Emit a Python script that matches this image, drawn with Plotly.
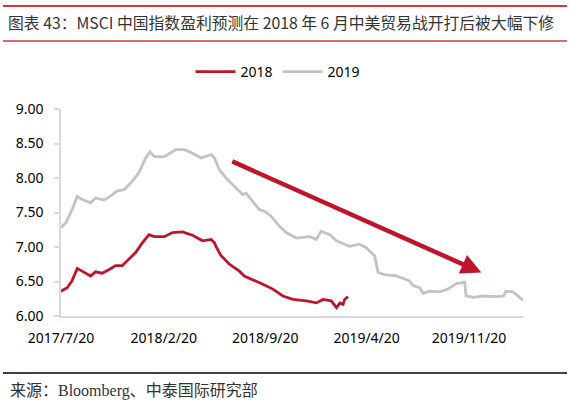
import plotly.graph_objects as go

# ---- data ----
dates_2019 = [
    "2017-07-20", "2017-07-30", "2017-08-12", "2017-08-23", "2017-09-02", "2017-09-20",
    "2017-09-30", "2017-10-18", "2017-11-01", "2017-11-14", "2017-11-29", "2017-12-16",
    "2017-12-30", "2018-01-13", "2018-01-22", "2018-01-31", "2018-02-21", "2018-03-07",
    "2018-03-17", "2018-04-04", "2018-04-21", "2018-05-09", "2018-05-19", "2018-05-30",
    "2018-06-06", "2018-06-16", "2018-06-30", "2018-07-17", "2018-08-04", "2018-08-11",
    "2018-08-25", "2018-09-08", "2018-09-18", "2018-10-02", "2018-10-20", "2018-11-03",
    "2018-11-24", "2018-12-22", "2019-01-05", "2019-01-15", "2019-02-02", "2019-02-16",
    "2019-03-15", "2019-04-05", "2019-04-19", "2019-05-07", "2019-05-14", "2019-05-28",
    "2019-06-21", "2019-07-05", "2019-07-19", "2019-07-26", "2019-08-09", "2019-08-16",
    "2019-08-30", "2019-09-20", "2019-10-07", "2019-10-25", "2019-11-11", "2019-11-14",
    "2019-11-29", "2019-12-20", "2020-01-17", "2020-02-01", "2020-02-05", "2020-02-20",
    "2020-03-02", "2020-03-12",
]
values_2019 = [
    7.28, 7.35, 7.54, 7.73, 7.69, 7.64,
    7.71, 7.68, 7.74, 7.81, 7.83, 7.95,
    8.08, 8.29, 8.38, 8.31, 8.31, 8.37,
    8.41, 8.41, 8.36, 8.29, 8.31, 8.34,
    8.29, 8.12, 8.00, 7.88, 7.76, 7.78,
    7.66, 7.54, 7.52, 7.45, 7.30, 7.21,
    7.13, 7.15, 7.11, 7.23, 7.18, 7.09,
    7.01, 7.04, 6.99, 6.87, 6.63, 6.60,
    6.58, 6.54, 6.51, 6.44, 6.41, 6.33,
    6.36, 6.35, 6.39, 6.47, 6.49, 6.29,
    6.27, 6.29, 6.28, 6.29, 6.36, 6.35,
    6.29, 6.23,
]

dates_2018 = [
    "2017-07-20", "2017-08-02", "2017-08-12", "2017-08-23", "2017-09-02", "2017-09-20",
    "2017-09-30", "2017-10-14", "2017-10-28", "2017-11-11", "2017-11-25", "2017-12-09",
    "2017-12-23", "2018-01-06", "2018-01-20", "2018-01-31", "2018-02-21", "2018-03-10",
    "2018-03-31", "2018-04-21", "2018-05-12", "2018-05-30", "2018-06-06", "2018-06-09",
    "2018-06-19", "2018-07-07", "2018-07-28", "2018-08-07", "2018-08-25", "2018-09-15",
    "2018-10-06", "2018-10-27", "2018-11-17", "2018-12-15", "2019-01-05", "2019-01-19",
    "2019-02-05", "2019-02-16", "2019-02-23", "2019-03-02", "2019-03-05", "2019-03-12",
]
values_2018 = [
    6.36, 6.41, 6.51, 6.69, 6.65, 6.58,
    6.64, 6.62, 6.67, 6.73, 6.73, 6.82,
    6.92, 7.06, 7.18, 7.15, 7.15, 7.21,
    7.22, 7.17, 7.09, 7.11, 7.06, 7.01,
    6.88, 6.75, 6.65, 6.58, 6.53, 6.46,
    6.39, 6.29, 6.24, 6.22, 6.19, 6.24,
    6.22, 6.12, 6.19, 6.17, 6.24, 6.28,
]

tick_dates = ["2017-07-20", "2018-02-20", "2018-09-20", "2019-04-20", "2019-11-20"]
tick_labels = ["2017/7/20", "2018/2/20", "2018/9/20", "2019/4/20", "2019/11/20"]
y_ticks = [6.0, 6.5, 7.0, 7.5, 8.0, 8.5, 9.0]

arrow_start = ("2018-07-10", 8.25)
arrow_end = ("2019-12-16", 6.63)

title_text = "图表 43：MSCI 中国指数盈利预测在 2018 年 6 月中美贸易战开打后被大幅下修"
source_text = "来源：Bloomberg、中泰国际研究部"

RED = "#C0142C"
GRAY = "#C3C3C3"
AXIS = "#D9D9D9"

# ---- figure ----
W, H = 570, 405
L, R, T, B = 61, 47, 109, 89
pw, ph = W - L - R, H - T - B


def px(x):
    return (x - L) / pw


def py(y):
    return (H - B - y) / ph


fig = go.Figure()
fig.add_trace(go.Scatter(x=dates_2018, y=values_2018, mode="lines", name="2018",
                         line=dict(color=RED, width=2.8)))
fig.add_trace(go.Scatter(x=dates_2019, y=values_2019, mode="lines", name="2019",
                         line=dict(color=GRAY, width=2.8)))

fig.add_annotation(x=arrow_end[0], y=arrow_end[1], ax=arrow_start[0], ay=arrow_start[1],
                   xref="x", yref="y", axref="x", ayref="y", text="", showarrow=True,
                   arrowhead=2, arrowsize=0.9, arrowwidth=4.5, arrowcolor=RED, standoff=0)

# title
fig.add_annotation(x=px(6), y=py(23), xref="paper", yref="paper", text=title_text,
                   showarrow=False, xanchor="left", yanchor="middle",
                   font=dict(family="Noto Sans CJK SC", size=15.8, color="#333333"))
# source
fig.add_annotation(x=px(8), y=py(391), xref="paper", yref="paper", text=source_text,
                   showarrow=False, xanchor="left", yanchor="middle",
                   font=dict(family="Liberation Serif, Noto Sans CJK SC", size=16, color="#333333"))

shapes = [
    dict(type="line", xref="paper", yref="paper", x0=px(3), x1=px(567), y0=py(6), y1=py(6),
         line=dict(color="#D8323C", width=2), layer="above"),
    dict(type="line", xref="paper", yref="paper", x0=px(3), x1=px(567), y0=py(41), y1=py(41),
         line=dict(color="#D86A70", width=2), layer="above"),
    dict(type="line", xref="paper", yref="paper", x0=px(3), x1=px(567), y0=py(373), y1=py(373),
         line=dict(color="#000000", width=1.5), layer="above"),
]

fig.update_layout(
    width=W, height=H,
    margin=dict(l=L, r=R, t=T, b=B, pad=0),
    paper_bgcolor="white", plot_bgcolor="white",
    font=dict(family="Noto Sans", size=14, color="#000000"),
    shapes=shapes,
    showlegend=True,
    legend=dict(orientation="h", x=px(278), y=py(72), xanchor="center", yanchor="middle",
                font=dict(size=14, color="#000000"), itemwidth=40, tracegroupgap=0,
                bgcolor="rgba(0,0,0,0)"),
    xaxis=dict(type="date", range=["2017-07-20", "2020-03-12"], tickvals=tick_dates,
               ticktext=tick_labels, showgrid=False, zeroline=False, showline=True,
               linecolor=AXIS, linewidth=1.5, ticks="", ticklabelstandoff=8,
               tickfont=dict(size=14)),
    yaxis=dict(range=[6, 9], tickvals=y_ticks, tickformat=".2f", showgrid=False,
               zeroline=False, showline=True, linecolor=AXIS, linewidth=1.5,
               ticks="outside", ticklen=5, tickcolor=AXIS, tickwidth=1.5,
               ticklabelstandoff=8, tickfont=dict(size=14)),
)

fig.write_html("out.html", config={"displayModeBar": False},
               post_script="document.body.style.margin='0';")
